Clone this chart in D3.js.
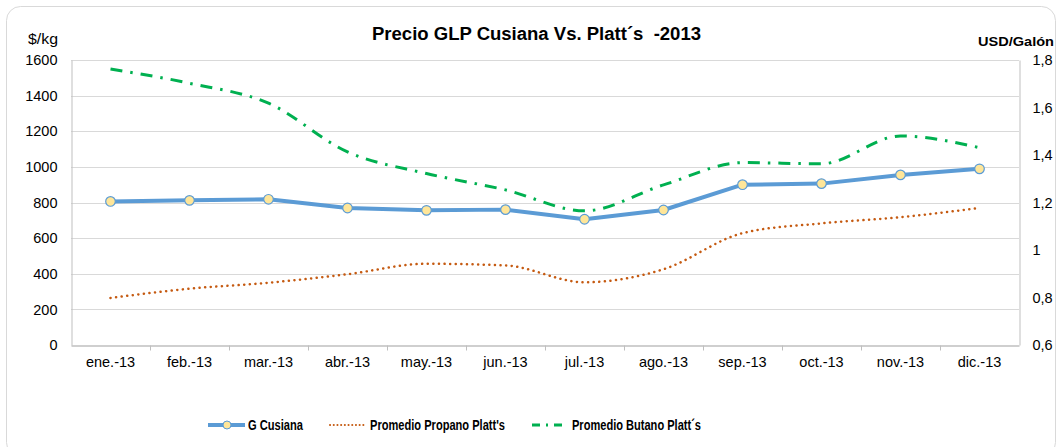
<!DOCTYPE html>
<html>
<head>
<meta charset="utf-8">
<script src="https://cdn.jsdelivr.net/npm/d3@7"></script>
<style>
  body { margin: 0; background: #fff; }
  svg { font-family: "Liberation Sans", Arial, sans-serif; }
</style>
</head>
<body>
<svg></svg>
<script>
const width = 1058;
const height = 447;

const months = ["ene.-13", "feb.-13", "mar.-13", "abr.-13", "may.-13", "jun.-13",
                "jul.-13", "ago.-13", "sep.-13", "oct.-13", "nov.-13", "dic.-13"];
const cusiana = [806, 812, 818, 769, 756, 760, 706, 758, 900, 906, 955, 989];
const propano = [0.798, 0.837, 0.862, 0.898, 0.942, 0.935, 0.864, 0.919, 1.071, 1.112, 1.138, 1.177];
const butano = [1.762, 1.702, 1.618, 1.413, 1.322, 1.253, 1.165, 1.274, 1.368, 1.363, 1.480, 1.431];
const leftTicks = [0, 200, 400, 600, 800, 1000, 1200, 1400, 1600];
const rightTicks = [0.6, 0.8, 1.0, 1.2, 1.4, 1.6, 1.8];

const plot = { left: 71, right: 1019, top: 60, bottom: 345 };

let svg = d3.select("svg").attr("width", width).attr("height", height);

// outer frame
svg.append("rect")
    .attr("x", 6.5).attr("y", 6.5)
    .attr("width", 1049).attr("height", 450)
    .attr("rx", 14)
    .attr("fill", "#fff")
    .attr("stroke", "#d9d9d9");

let scX = d3.scaleBand().domain(months).range([plot.left, plot.right]);
let scY = d3.scaleLinear().domain([0, 1600]).range([plot.bottom, plot.top]);
let scY2 = d3.scaleLinear().domain([0.6, 1.8]).range([plot.bottom, plot.top]);
const cx = d => scX(d) + scX.bandwidth() / 2;

// grid
svg.append("g")
    .selectAll("line")
    .data(leftTicks.slice(1))
    .enter()
    .append("line")
    .attr("x1", plot.left).attr("x2", plot.right)
    .attr("y1", d => Math.round(scY(d)) + 0.5)
    .attr("y2", d => Math.round(scY(d)) + 0.5)
    .attr("stroke", "#d9d9d9");

// left axis
let axisL = svg.append("g")
    .attr("transform", `translate(${plot.left + 0.5},0)`)
    .call(d3.axisLeft(scY).tickValues(leftTicks).tickSize(0).tickPadding(14).tickFormat(d3.format("d")));
axisL.select(".domain").attr("stroke", "#bfbfbf");
axisL.selectAll("text").attr("font-size", 14.5).attr("fill", "#000");

// right axis
let axisR = svg.append("g")
    .attr("transform", `translate(${plot.right + 0.5},0)`)
    .call(d3.axisRight(scY2).tickValues(rightTicks).tickSize(0).tickPadding(13)
        .tickFormat(d => d3.format(".1f")(d).replace(".0", "").replace(".", ",")));
axisR.select(".domain").attr("stroke", "#bfbfbf");
axisR.selectAll("text").attr("font-size", 14.5).attr("fill", "#000");

// bottom axis
let axisB = svg.append("g")
    .attr("transform", `translate(0,${plot.bottom + 0.5})`)
    .call(d3.axisBottom(scX).tickSize(0).tickPadding(11));
axisB.select(".domain").attr("stroke", "#bfbfbf").attr("stroke-width", 1.5);
axisB.selectAll("text").attr("font-size", 14.5).attr("fill", "#000");
axisB.selectAll(".sep")
    .data(months.slice(1))
    .enter()
    .append("line")
    .attr("class", "sep")
    .attr("x1", d => Math.round(scX(d)) + 0.5)
    .attr("x2", d => Math.round(scX(d)) + 0.5)
    .attr("y1", 0).attr("y2", 5)
    .attr("stroke", "#bfbfbf");

// series
let lineSmooth = d3.line()
    .x((d, i) => cx(months[i]))
    .y(d => scY2(d))
    .curve(d3.curveMonotoneX);
svg.append("path")
    .attr("d", lineSmooth(propano))
    .attr("fill", "none")
    .attr("stroke", "#c55a11")
    .attr("stroke-width", 2.5)
    .attr("stroke-linecap", "round")
    .attr("stroke-dasharray", "0.1 5.5");

svg.append("path")
    .attr("d", lineSmooth(butano))
    .attr("fill", "none")
    .attr("stroke", "#00b050")
    .attr("stroke-width", 3)
    .attr("stroke-dasharray", "12 8 2.5 8");

let lineCus = d3.line()
    .x((d, i) => cx(months[i]))
    .y(d => scY(d));
svg.append("path")
    .attr("d", lineCus(cusiana))
    .attr("fill", "none")
    .attr("stroke", "#5b9bd5")
    .attr("stroke-width", 4)
    .attr("stroke-linejoin", "round");

svg.selectAll(".pt")
    .data(cusiana)
    .enter()
    .append("circle")
    .attr("class", "pt")
    .attr("cx", (d, i) => cx(months[i]))
    .attr("cy", d => scY(d))
    .attr("r", 4.8)
    .attr("fill", "#ffe699")
    .attr("stroke", "#5b9bd5")
    .attr("stroke-width", 1.2);

// titles
svg.append("text")
    .attr("x", 372).attr("y", 40)
    .attr("xml:space", "preserve")
    .style("white-space", "pre")
    .attr("font-size", 17.5).attr("font-weight", "bold")
    .attr("textLength", 329).attr("lengthAdjust", "spacingAndGlyphs")
    .text("Precio GLP Cusiana Vs. Platt´s  -2013");

svg.append("text")
    .attr("x", 28).attr("y", 44)
    .attr("font-size", 14.5)
    .attr("textLength", 30).attr("lengthAdjust", "spacingAndGlyphs")
    .text("$/kg");

svg.append("text")
    .attr("x", 978).attr("y", 46)
    .attr("font-size", 13.5).attr("font-weight", "bold")
    .attr("textLength", 76).attr("lengthAdjust", "spacingAndGlyphs")
    .text("USD/Galón");

// legend
let legend = svg.append("g").attr("transform", "translate(0,425)");
legend.append("line")
    .attr("x1", 208).attr("x2", 245)
    .attr("stroke", "#5b9bd5").attr("stroke-width", 4);
legend.append("circle")
    .attr("cx", 227).attr("r", 4)
    .attr("fill", "#ffe699").attr("stroke", "#5b9bd5");
legend.append("text")
    .attr("x", 248).attr("y", 4.5)
    .attr("font-size", 14).attr("font-weight", "bold")
    .attr("textLength", 55).attr("lengthAdjust", "spacingAndGlyphs")
    .text("G Cusiana");

legend.append("line")
    .attr("x1", 330).attr("x2", 366)
    .attr("stroke", "#c55a11").attr("stroke-width", 2)
    .attr("stroke-linecap", "round")
    .attr("stroke-dasharray", "0.1 3.6");
legend.append("text")
    .attr("x", 370).attr("y", 4.5)
    .attr("font-size", 14).attr("font-weight", "bold")
    .attr("textLength", 135).attr("lengthAdjust", "spacingAndGlyphs")
    .text("Promedio Propano Platt's");

legend.append("line")
    .attr("x1", 532).attr("x2", 564)
    .attr("stroke", "#00b050").attr("stroke-width", 3)
    .attr("stroke-dasharray", "8 6 2 6");
legend.append("text")
    .attr("x", 572).attr("y", 4.5)
    .attr("font-size", 14).attr("font-weight", "bold")
    .attr("textLength", 129).attr("lengthAdjust", "spacingAndGlyphs")
    .text("Promedio Butano Platt´s");
</script>
</body>
</html>
